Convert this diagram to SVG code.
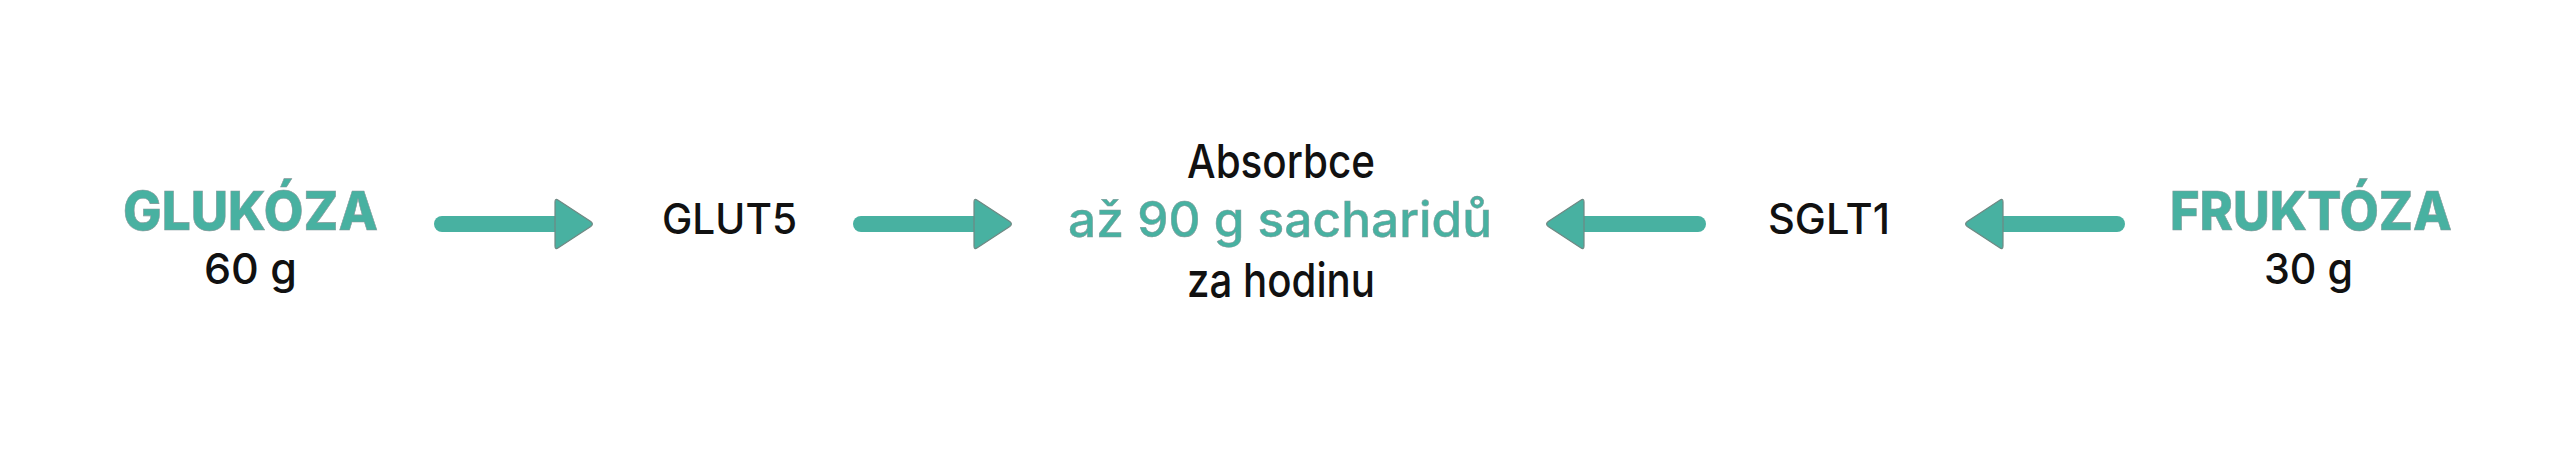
<svg xmlns="http://www.w3.org/2000/svg" width="2560" height="451" viewBox="0 0 2560 451">
<style>
.t{font-family:Inter,"Noto Sans","Liberation Sans",sans-serif;font-weight:500}
.g{fill:#48b1a1;stroke:#86999a;stroke-width:0.6}
.k{fill:#111111}
.b{font-weight:800}
.shaft{stroke:#48b1a1;stroke-width:16;stroke-linecap:round;fill:none}
.head{fill:#48b1a1;stroke:#6f8883;stroke-width:1.2;stroke-linejoin:round}
</style>
<defs>
<path id="headR" d="M0,-22 Q0,-26 3.3,-23.8 L35.8,-2.4 Q39,0 35.8,2.4 L3.3,23.8 Q0,26 0,22 Z"/>
</defs>
<rect width="2560" height="451" fill="#ffffff"/>
<g id="glukoza">
<text class="t g b" x="250.5" y="230" font-size="54" text-anchor="middle" textLength="255" lengthAdjust="spacingAndGlyphs">GLUKÓZA</text>
<text class="t k" x="204" y="284" font-size="43" textLength="93" lengthAdjust="spacingAndGlyphs">60 g</text>
</g>
<g id="glut5">
<text class="t k" x="662" y="234" font-size="42" textLength="135" lengthAdjust="spacingAndGlyphs">GLUT5</text>
</g>
<g id="absorbce">
<text class="t k" x="1281" y="178" font-size="47" text-anchor="middle" textLength="188" lengthAdjust="spacingAndGlyphs">Absorbce</text>
<text class="t g" x="1280" y="237" font-size="49" text-anchor="middle" textLength="424" lengthAdjust="spacingAndGlyphs" style="stroke-width:0.5">až 90 g sacharidů</text>
<text class="t k" x="1281" y="297" font-size="47" text-anchor="middle" textLength="188" lengthAdjust="spacingAndGlyphs">za hodinu</text>
</g>
<g id="sglt1">
<text class="t k" x="1768" y="234" font-size="42" textLength="122" lengthAdjust="spacingAndGlyphs">SGLT1</text>
</g>
<g id="fruktoza">
<text class="t g b" x="2311" y="230" font-size="54" text-anchor="middle" textLength="282" lengthAdjust="spacingAndGlyphs">FRUKTÓZA</text>
<text class="t k" x="2264" y="284" font-size="43" textLength="89" lengthAdjust="spacingAndGlyphs">30 g</text>
</g>
<g id="connectors">
<line class="shaft" x1="442" y1="224" x2="557" y2="224"/>
<use href="#headR" class="head" transform="translate(555,224)"/>
<line class="shaft" x1="861" y1="224" x2="976" y2="224"/>
<use href="#headR" class="head" transform="translate(974,224)"/>
<line class="shaft" x1="1698" y1="224" x2="1582" y2="224"/>
<use href="#headR" class="head" transform="translate(1584,224) scale(-1,1)"/>
<line class="shaft" x1="2117" y1="224" x2="2001" y2="224"/>
<use href="#headR" class="head" transform="translate(2003,224) scale(-1,1)"/>
</g>
</svg>
